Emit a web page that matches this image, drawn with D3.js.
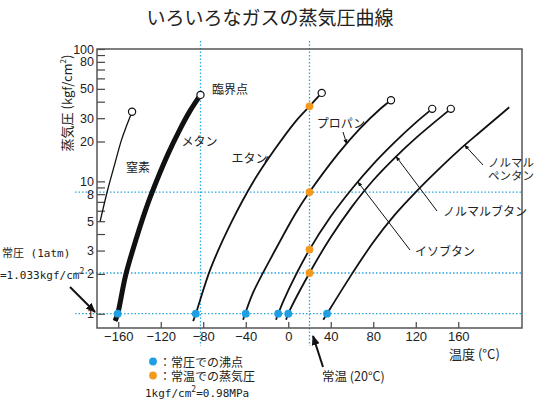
<!DOCTYPE html>
<html><head><meta charset="utf-8">
<script src="https://cdn.jsdelivr.net/npm/d3@7"></script>
<style>
body{margin:0;background:#fff}
text{font-family:"Noto Sans CJK JP","Noto Sans",sans-serif;fill:#222}
.num{font-family:"Liberation Sans Narrow","Liberation Sans",Arial,sans-serif}
.mono{font-family:"DejaVu Sans Mono","Noto Sans CJK JP",monospace}
</style></head>
<body><div id="chart"></div>
<script>
// vapor pressure curves [temperature °C, kgf/cm2]
var nitrogen = [[-177,5.0],[-170,8.6],[-163,13.8],[-157,20.5],[-152,26.5],[-147,33.6]];
var methane  = [[-163,0.88],[-160.5,1.0],[-153,1.96],[-143,3.7],[-133,6.5],[-123,10.5],[-113,16.2],[-103,23.8],[-93,33.5],[-82.6,45]];
var ethane   = [[-89.5,0.88],[-87,1.0],[-73,2.2],[-53,5.0],[-33,9.9],[-13,17.3],[7,28.4],[20,36.9],[31.5,46.6]];
var propane  = [[-42.5,0.9],[-40,1.03],[-33,1.45],[-13,2.95],[7,5.75],[20,8.3],[47,16.2],[67,24.8],[87,35.5],[96.7,41]];
var isobutane= [[-11.5,0.9],[-9.5,1.0],[0,1.5],[20,3.05],[40,5.42],[60,8.79],[80,13.5],[100,19.7],[120,27.8],[135.5,35.3]];
var nbutane  = [[-2,0.9],[0,1.0],[20,2.03],[40,3.78],[60,6.44],[80,10.2],[100,15.0],[120,21.2],[140,29.0],[153,35.3]];
var npentane = [[33,0.9],[36.5,1.0],[60,2.0],[80,3.47],[100,5.56],[120,8.3],[140,12.0],[160,17.0],[180,23.4],[200,32.0],[208,36.3]];

var boilingPts = [[-160.5,1],[-87,1],[-40,1],[-9.5,1],[0,1],[36.5,1]];
var roomTempPts = [[20,36.9],[20,8.3],[20,3.05],[20,2.03]];
var criticalPts = [[-147,33.6],[-82.6,45],[31.5,46.6],[96.7,41],[135.5,35.3],[153,35.3]];

var xTicks = [-160,-120,-80,-40,0,40,80,120,160];
var yTicks = [1,2,3,4,5,6,7,8,9,10,20,30,40,50,60,70,80,90,100];
var yLabels = [1,2,3,5,8,10,20,30,50,80,100];
var hLines = [1,2.03,8.3];
var vLines = [-82.6,20];

var W = 537, H = 399;
var pLeft = 97, pRight = 522, pTop = 49, pBottom = 328;

var x = d3.scaleLinear().domain([-180,220]).range([pLeft,pRight]);
var y = d3.scaleLog().domain([0.78,100]).range([pBottom,pTop]);

var svg = d3.select("#chart").append("svg")
    .attr("width", W).attr("height", H);

var defs = svg.append("defs");
defs.append("marker").attr("id","arr").attr("viewBox","0 0 10 10")
    .attr("refX",9).attr("refY",5).attr("markerWidth",10).attr("markerHeight",10)
    .attr("markerUnits","userSpaceOnUse").attr("orient","auto")
  .append("path").attr("d","M0,1 L10,5 L0,9 Z").attr("fill","#111");
defs.append("marker").attr("id","tip").attr("viewBox","0 0 10 10")
    .attr("refX",9).attr("refY",5).attr("markerWidth",5).attr("markerHeight",5)
    .attr("markerUnits","userSpaceOnUse").attr("orient","auto")
  .append("path").attr("d","M0,1 L10,5 L0,9 Z").attr("fill","#111");

// title
svg.append("text").attr("x",270).attr("y",16)
    .attr("text-anchor","middle").attr("dominant-baseline","central")
    .style("font-size","19px").text("いろいろなガスの蒸気圧曲線");

// dotted guide lines
var dotCol = "#2aa6e0";
svg.selectAll(".hl").data(hLines).enter().append("line")
    .attr("x1",75).attr("x2",pRight)
    .attr("y1",function(d){return y(d);}).attr("y2",function(d){return y(d);})
    .attr("stroke",dotCol).attr("stroke-width",1.3).attr("stroke-dasharray","1.5,2");
svg.selectAll(".vl").data(vLines).enter().append("line")
    .attr("y1",41).attr("y2",346)
    .attr("x1",function(d){return x(d);}).attr("x2",function(d){return x(d);})
    .attr("stroke",dotCol).attr("stroke-width",1.3).attr("stroke-dasharray","1.5,2");

// axes
var xAxis = d3.axisBottom(x).tickValues(xTicks).tickSizeInner(-6).tickSizeOuter(0).tickPadding(4)
    .tickFormat(function(d){ return d < 0 ? "\u2212" + Math.abs(d) : d; });
var yAxis = d3.axisLeft(y).tickValues(yTicks).tickSizeInner(-8).tickSizeOuter(0).tickPadding(3)
    .tickFormat(function(d){ return yLabels.indexOf(d) >= 0 ? d : ""; });

var gx = svg.append("g").attr("transform","translate(0," + pBottom + ")").call(xAxis);
var gy = svg.append("g").attr("transform","translate(" + pLeft + ",0)").call(yAxis);
[gx, gy].forEach(function(g){
  g.select(".domain").remove();
  g.selectAll("line").attr("stroke","#444").attr("stroke-width",1.2);
  g.selectAll("text").attr("class","num").style("font-size","13px").attr("fill","#222");
});
gy.selectAll("text").style("font-size","12.5px");

svg.append("rect").attr("x",pLeft).attr("y",pTop)
    .attr("width",pRight-pLeft).attr("height",pBottom-pTop)
    .attr("fill","none").attr("stroke","#555").attr("stroke-width",1.5);

// curves
var line = d3.line()
    .x(function(d){return x(d[0]);})
    .y(function(d){return y(d[1]);})
    .curve(d3.curveCatmullRom.alpha(0.5));

var series = [
  {d:nitrogen, w:1.3},
  {d:methane, w:5},
  {d:ethane, w:1.8},
  {d:propane, w:1.8},
  {d:isobutane, w:1.8},
  {d:nbutane, w:1.8},
  {d:npentane, w:1.8}
];
svg.selectAll(".curve").data(series).enter().append("path")
    .attr("d",function(s){return line(s.d);})
    .attr("fill","none").attr("stroke","#111")
    .attr("stroke-width",function(s){return s.w;});

// critical points
svg.selectAll(".crit").data(criticalPts).enter().append("circle")
    .attr("cx",function(d){return x(d[0]);}).attr("cy",function(d){return y(d[1]);})
    .attr("r",3.6).attr("fill","#fff").attr("stroke","#111").attr("stroke-width",1.2);

// boiling points / room temperature pressures
var blue = "#1e9fe3", orange = "#f39a1e";
svg.selectAll(".bp").data(boilingPts).enter().append("circle")
    .attr("cx",function(d){return x(d[0]);}).attr("cy",function(d){return y(d[1]);})
    .attr("r",3.9).attr("fill",blue);
svg.selectAll(".rt").data(roomTempPts).enter().append("circle")
    .attr("cx",function(d){return x(d[0]);}).attr("cy",function(d){return y(d[1]);})
    .attr("r",3.9).attr("fill",orange);

// leader lines
var leaders = [
  {from:[265,162], to:[-19,15.5]},
  {from:[343,132], to:[55,19.2]},
  {from:[483,165], to:[166,18.8]},
  {from:[437,211], to:[101.5,15.4]},
  {from:[410,250], to:[65.5,9.9]}
];
svg.selectAll(".ld").data(leaders).enter().append("line")
    .attr("x1",function(d){return d.from[0];}).attr("y1",function(d){return d.from[1];})
    .attr("x2",function(d){return x(d.to[0]);}).attr("y2",function(d){return y(d.to[1]);})
    .attr("stroke","#111").attr("stroke-width",1)
    .attr("marker-end",function(d,i){return i > 0 ? "url(#tip)" : null;});

// labels
function label(t, px, py, anchor, size, cls){
  return svg.append("text").attr("x",px).attr("y",py)
    .attr("text-anchor",anchor||"start").attr("dominant-baseline","central")
    .attr("class",cls||null)
    .style("font-size",(size||12) + "px").text(t);
}
label("窒素",138,166,"middle");
label("メタン",199.5,140,"middle");
label("臨界点",230,88,"middle");
label("エタン",249.5,157,"middle");
label("プロパン",341,122,"middle");
label("ノルマル",488,162,"start",11.5);
label("ペンタン",488,175,"start",11.5);
label("ノルマルブタン",443,210);
label("イソブタン",415,250);
label("温度 (°C)",449,353,"start",13);
label("常温 (20°C)",322,375,"start",12.5);

label("常圧 (1atm)",2,253,"start",11,"mono");
var t2 = label("=1.033kgf/cm",0,275,"start",11,"mono");
t2.append("tspan").attr("dy",-4).style("font-size","8px").text("2");

// y axis title
var yt = svg.append("text").attr("transform","translate(66,103) rotate(-90)")
    .attr("text-anchor","middle").attr("dominant-baseline","central")
    .style("font-size","13px").text("蒸気圧 (kgf/cm");
yt.append("tspan").attr("dy",-4).style("font-size","8px").text("2");
yt.append("tspan").attr("dy",4).text(")");

// arrows
svg.append("line").attr("x1",70).attr("y1",287).attr("x2",95).attr("y2",312)
    .attr("stroke","#111").attr("stroke-width",2).attr("marker-end","url(#arr)");
svg.append("line").attr("x1",323).attr("y1",367).attr("x2",313).attr("y2",336)
    .attr("stroke","#111").attr("stroke-width",2).attr("marker-end","url(#arr)");

// legend
svg.append("circle").attr("cx",153).attr("cy",361.5).attr("r",3.9).attr("fill",blue);
svg.append("circle").attr("cx",153).attr("cy",375.5).attr("r",3.9).attr("fill",orange);
label("：常圧での沸点",159,361.5,"start",12);
label("：常温での蒸気圧",159,375.5,"start",12);
var t3 = label("1kgf/cm",145,393,"start",11,"mono");
t3.append("tspan").attr("dy",-4).style("font-size","8px").text("2");
t3.append("tspan").attr("dy",4).text("=0.98MPa");
</script>
</body></html>
